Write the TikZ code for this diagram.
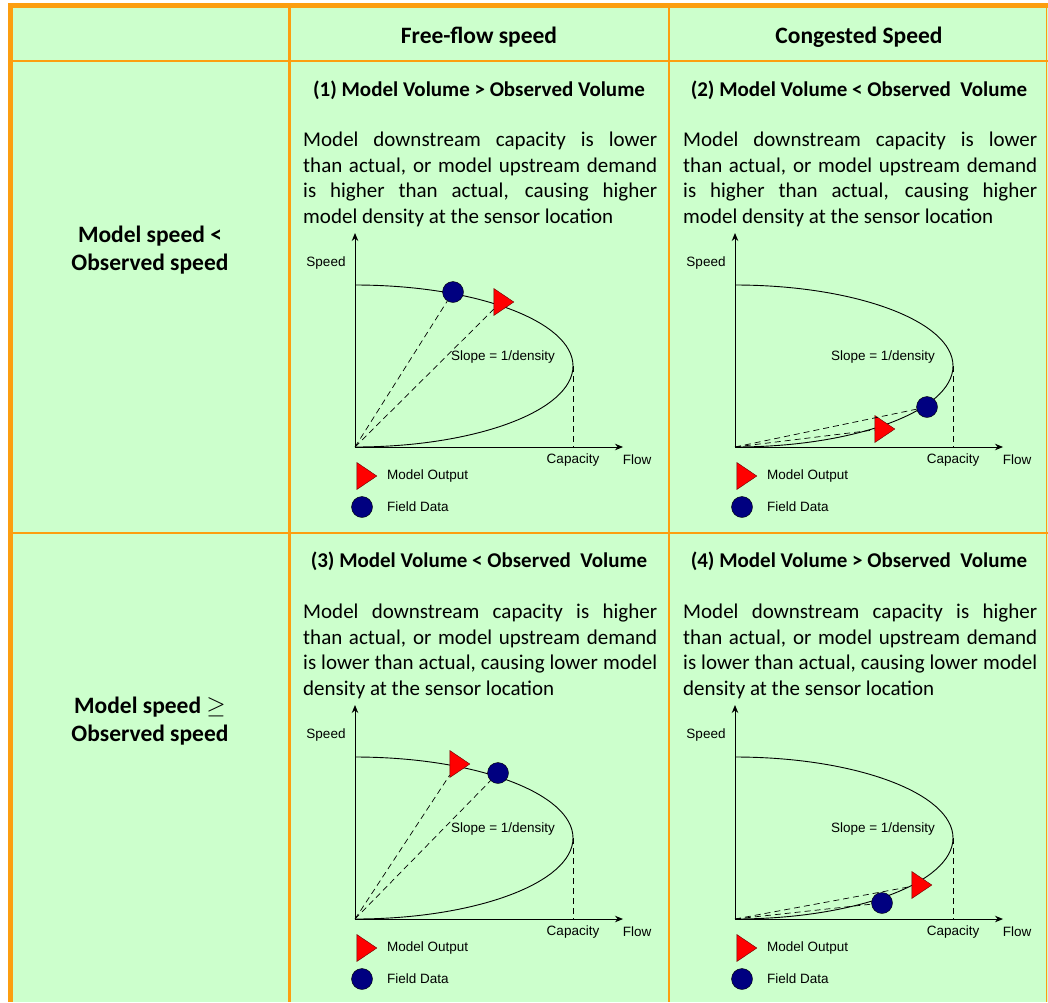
\documentclass[tikz,border=0pt]{standalone}
\usepackage{fontspec}
\setmainfont{Carlito}
\newfontfamily\chartfont{Liberation Sans}
\usetikzlibrary{arrows.meta,shapes.geometric}
\definecolor{cellgreen}{RGB}{204,255,204}
\definecolor{gridorange}{RGB}{252,158,16}
\definecolor{fieldblue}{RGB}{0,0,128}
\definecolor{modelred}{RGB}{255,0,0}

\begin{document}
\begin{tikzpicture}[x=1pt,y=-1pt,
  head/.style={font=\fontsize{23.5}{28}\selectfont\bfseries,inner sep=0},
  title/.style={font=\fontsize{21}{25}\selectfont\bfseries,inner sep=0},
  body/.style={font=\fontsize{21}{25.5}\selectfont,inner sep=0,anchor=north west,align=left},
  axis/.style={-{Stealth[length=8pt,width=6.5pt]},line width=0.9pt},
  curve/.style={line width=0.9pt},
  guide/.style={line width=0.7pt,dash pattern=on 6pt off 4pt},
  lbl/.style={font=\chartfont\fontsize{13.5}{15}\selectfont,inner sep=0},
  model/.style={isosceles triangle,isosceles triangle stretches,minimum width=27pt,minimum height=20pt,inner sep=0,fill=modelred,draw=red!40!black,line width=0.4pt},
  field/.style={circle,minimum size=21pt,inner sep=0,fill=fieldblue,draw=black,line width=0.4pt}]
\useasboundingbox (0,0) rectangle (1048,1002);
\fill[cellgreen] (8,3) rectangle (1048,1002);
\draw[gridorange,line width=4.5pt] (8,5.5) -- (1048,5.5);
\draw[gridorange,line width=4.5pt] (10.5,3) -- (10.5,1002);
\draw[gridorange,line width=2pt] (8,61) -- (1048,61);
\draw[gridorange,line width=2.5pt] (8,533) -- (1048,533);
\draw[gridorange,line width=3pt] (289,3) -- (289,1002);
\draw[gridorange,line width=2.5pt] (669,3) -- (669,1002);
\draw[gridorange,line width=1pt] (1046.5,3) -- (1046.5,1002);

\node[head] (hfree) at (479,37) {Free-flow speed};
\node[head] (hcong) at (859,37) {Congested Speed};
\node[head,align=center] (rlow) at (150,250) {Model speed <\\Observed speed};
\node[head,align=center] (rhigh) at (150,721) {Model speed $\geq$\\Observed speed};

\node[title] (t1) at (479,90) {(1) Model Volume > Observed Volume};
\node[title] (t2) at (859,90) {(2) Model Volume < Observed\ \ Volume};
\node[title] (t3) at (479,561) {(3) Model Volume < Observed\ \ Volume};
\node[title] (t4) at (859,561) {(4) Model Volume > Observed\ \ Volume};

\node[body] (d1) at (303,132) {\makebox[354pt][s]{Model downstream capacity is lower}\\
  \makebox[354pt][s]{than actual, or model upstream demand}\\
  \makebox[354pt][s]{is higher than actual, causing higher}\\
  model density at the sensor location};
\node[body] (d2) at (683,132) {\makebox[354pt][s]{Model downstream capacity is lower}\\
  \makebox[354pt][s]{than actual, or model upstream demand}\\
  \makebox[354pt][s]{is higher than actual, causing higher}\\
  model density at the sensor location};
\node[body] (d3) at (303,604) {\makebox[354pt][s]{Model downstream capacity is higher}\\
  \makebox[354pt][s]{than actual, or model upstream demand}\\
  \makebox[354pt][s]{is lower than actual, causing lower model}\\
  density at the sensor location};
\node[body] (d4) at (683,604) {\makebox[354pt][s]{Model downstream capacity is higher}\\
  \makebox[354pt][s]{than actual, or model upstream demand}\\
  \makebox[354pt][s]{is lower than actual, causing lower model}\\
  density at the sensor location};

\begin{scope}[shift={(355,447)}]
\coordinate (o1) at (0,0);
\coordinate (ytop1) at (0,-214);
\coordinate (xend1) at (268,0);
\coordinate (cap1) at (218,-81);
\coordinate (capb1) at (218,0);
\draw[axis] (o1) -- (ytop1);
\draw[axis] (o1) -- (xend1);
\draw[curve] (0,-162) .. controls (120.4,-162) and (218,-125.7) .. (cap1) .. controls (218,-36.3) and (120.4,0) .. (o1);
\draw[guide] (cap1) -- (capb1);
\node[lbl] (spd1) at (-29,-184) {Speed};
\node[lbl] (capl1) at (218,13) {Capacity};
\node[lbl] (flw1) at (282,13) {Flow};
\node[lbl] (slp1) at (148,-90) {Slope = 1/density};
\node[field] (f1) at (98,-155) {};
\node[model] (m1) at (146,-145) {};
\draw[guide] (o1) -- (f1);
\draw[guide] (o1) -- (m1);
\node[model] (lm1) at (9,29) {};
\node[lbl,anchor=west] (lmt1) at (32,29) {Model Output};
\node[field] (lf1) at (7,60) {};
\node[lbl,anchor=west] (lft1) at (32,60) {Field Data};
\end{scope}

\begin{scope}[shift={(735,447)}]
\coordinate (o2) at (0,0);
\coordinate (ytop2) at (0,-214);
\coordinate (xend2) at (268,0);
\coordinate (cap2) at (218,-81);
\coordinate (capb2) at (218,0);
\draw[axis] (o2) -- (ytop2);
\draw[axis] (o2) -- (xend2);
\draw[curve] (0,-162) .. controls (120.4,-162) and (218,-125.7) .. (cap2) .. controls (218,-36.3) and (120.4,0) .. (o2);
\draw[guide] (cap2) -- (capb2);
\node[lbl] (spd2) at (-29,-184) {Speed};
\node[lbl] (capl2) at (218,13) {Capacity};
\node[lbl] (flw2) at (282,13) {Flow};
\node[lbl] (slp2) at (148,-90) {Slope = 1/density};
\node[field] (f2) at (192,-40) {};
\node[model] (m2) at (147,-18) {};
\draw[guide] (o2) -- (f2);
\draw[guide] (o2) -- (m2);
\node[model] (lm2) at (9,29) {};
\node[lbl,anchor=west] (lmt2) at (32,29) {Model Output};
\node[field] (lf2) at (7,60) {};
\node[lbl,anchor=west] (lft2) at (32,60) {Field Data};
\end{scope}

\begin{scope}[shift={(355,919)}]
\coordinate (o3) at (0,0);
\coordinate (ytop3) at (0,-214);
\coordinate (xend3) at (268,0);
\coordinate (cap3) at (218,-81);
\coordinate (capb3) at (218,0);
\draw[axis] (o3) -- (ytop3);
\draw[axis] (o3) -- (xend3);
\draw[curve] (0,-162) .. controls (120.4,-162) and (218,-125.7) .. (cap3) .. controls (218,-36.3) and (120.4,0) .. (o3);
\draw[guide] (cap3) -- (capb3);
\node[lbl] (spd3) at (-29,-184) {Speed};
\node[lbl] (capl3) at (218,13) {Capacity};
\node[lbl] (flw3) at (282,13) {Flow};
\node[lbl] (slp3) at (148,-90) {Slope = 1/density};
\node[field] (f3) at (143,-146) {};
\node[model] (m3) at (102,-155) {};
\draw[guide] (o3) -- (f3);
\draw[guide] (o3) -- (m3);
\node[model] (lm3) at (9,29) {};
\node[lbl,anchor=west] (lmt3) at (32,29) {Model Output};
\node[field] (lf3) at (7,60) {};
\node[lbl,anchor=west] (lft3) at (32,60) {Field Data};
\end{scope}

\begin{scope}[shift={(735,919)}]
\coordinate (o4) at (0,0);
\coordinate (ytop4) at (0,-214);
\coordinate (xend4) at (268,0);
\coordinate (cap4) at (218,-81);
\coordinate (capb4) at (218,0);
\draw[axis] (o4) -- (ytop4);
\draw[axis] (o4) -- (xend4);
\draw[curve] (0,-162) .. controls (120.4,-162) and (218,-125.7) .. (cap4) .. controls (218,-36.3) and (120.4,0) .. (o4);
\draw[guide] (cap4) -- (capb4);
\node[lbl] (spd4) at (-29,-184) {Speed};
\node[lbl] (capl4) at (218,13) {Capacity};
\node[lbl] (flw4) at (282,13) {Flow};
\node[lbl] (slp4) at (148,-90) {Slope = 1/density};
\node[field] (f4) at (147,-16) {};
\node[model] (m4) at (184,-34) {};
\draw[guide] (o4) -- (f4);
\draw[guide] (o4) -- (m4);
\node[model] (lm4) at (9,29) {};
\node[lbl,anchor=west] (lmt4) at (32,29) {Model Output};
\node[field] (lf4) at (7,60) {};
\node[lbl,anchor=west] (lft4) at (32,60) {Field Data};
\end{scope}
\end{tikzpicture}
\end{document}
